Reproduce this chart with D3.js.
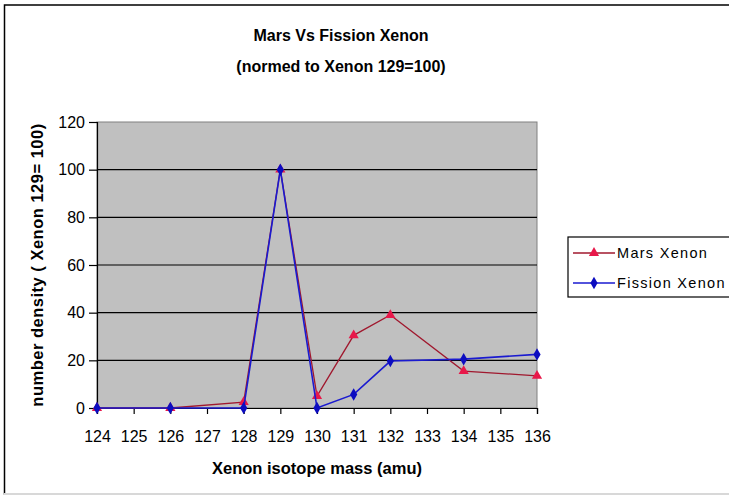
<!DOCTYPE html>
<html><head><meta charset="utf-8">
<script src="https://cdn.jsdelivr.net/npm/d3@7"></script>
<style>
html,body{margin:0;padding:0;background:#fff;}
text{font-family:"Liberation Sans",Arial,sans-serif;fill:#000;}
</style></head>
<body>
<svg id="chart" width="729" height="500"></svg>
<script>
// ---- data ----
const isotopes = [124, 126, 128, 129, 130, 131, 132, 134, 136];
const marsXenon = [0, 0, 2.5, 100, 5, 30.5, 39, 15.5, 13.5];
const fissionXenon = [0, 0, 0, 100, 0, 5.7, 19.7, 20.5, 22.5];
const xTicks = [124,125,126,127,128,129,130,131,132,133,134,135,136];
const yTicks = [0, 20, 40, 60, 80, 100, 120];
const seriesNames = ["Mars Xenon", "Fission Xenon"];
const titleLines = ["Mars Vs Fission Xenon", "(normed to Xenon 129=100)"];
const xTitle = "Xenon isotope mass (amu)";
const yTitle = "number density ( Xenon 129= 100)";

const svg = d3.select("#chart");
// chart area border
svg.append("rect").attr("x",4.5).attr("y",5).attr("width",760).attr("height",489)
  .attr("fill","#fff").attr("stroke","#000").attr("stroke-width",1.5);
svg.append("line").attr("x1",4).attr("x2",729).attr("y1",494).attr("y2",494)
  .attr("stroke","#d8d8d8").attr("stroke-width",2);

const x = d3.scaleLinear().domain([124,136]).range([97,537]);
const y = d3.scaleLinear().domain([0,120]).range([408,122]);

// plot area
svg.append("rect").attr("x",x(124)).attr("y",y(120))
  .attr("width",x(136)-x(124)).attr("height",y(0)-y(120))
  .attr("fill","#c0c0c0").attr("stroke","#808080").attr("stroke-width",1);

// gridlines
svg.append("g").selectAll("line").data(yTicks.filter(d=>d>0&&d<120)).join("line")
  .attr("x1",x(124)).attr("x2",x(136)).attr("y1",d=>y(d)).attr("y2",d=>y(d))
  .attr("stroke","#000").attr("stroke-width",1.2);

// axes
const yAxis = svg.append("g").attr("transform",`translate(${x(124)},0)`)
  .call(d3.axisLeft(y).tickValues(yTicks).tickSize(8).tickPadding(4));
const xAxis = svg.append("g").attr("transform",`translate(0,${y(0)})`)
  .call(d3.axisBottom(x).tickValues(xTicks).tickFormat(d3.format("d")).tickSize(6).tickPadding(17));
[yAxis,xAxis].forEach(a=>{
  a.select(".domain").attr("stroke","#000").attr("stroke-width",1.2);
  a.selectAll(".tick line").attr("stroke","#000").attr("stroke-width",1.2);
  a.selectAll("text").attr("font-size",16).attr("font-family","'Liberation Sans',Arial,sans-serif").attr("fill","#000");
});

// series
const markerTri = d3.symbol().type(d3.symbolTriangle).size(45);
const markerDia = d3.symbol().type(d3.symbolDiamond).size(45);
const line = d3.line().x(d=>x(d[0])).y(d=>y(d[1]));
const marsPts = isotopes.map((v,i)=>[v, marsXenon[i]]);
const fisPts = isotopes.map((v,i)=>[v, fissionXenon[i]]);

svg.append("path").datum(marsPts).attr("d",line).attr("fill","none")
  .attr("stroke","#a0182e").attr("stroke-width",1.3);
svg.append("g").selectAll("path").data(marsPts).join("path")
  .attr("d",markerTri).attr("transform",d=>`translate(${x(d[0])},${y(d[1])})`)
  .attr("fill","#e8184a");

svg.append("path").datum(fisPts).attr("d",line).attr("fill","none")
  .attr("stroke","#1a1ad0").attr("stroke-width",1.6);
svg.append("g").selectAll("path").data(fisPts).join("path")
  .attr("d",markerDia).attr("transform",d=>`translate(${x(d[0])},${y(d[1])})`)
  .attr("fill","#0c0cc0");

// titles
svg.append("g").selectAll("text").data(titleLines).join("text")
  .attr("x",341).attr("y",(d,i)=>41+i*31).attr("text-anchor","middle")
  .attr("font-size",16).attr("font-weight","bold").text(d=>d);
svg.append("text").attr("x",317).attr("y",474).attr("text-anchor","middle")
  .attr("font-size",16.5).attr("font-weight","bold").text(xTitle);
svg.append("text").attr("transform","translate(43,265) rotate(-90)").attr("text-anchor","middle")
  .attr("font-size",16.5).attr("font-weight","bold").attr("letter-spacing","0.5px").text(yTitle);

// legend
const lg = svg.append("g");
lg.append("rect").attr("x",568).attr("y",237).attr("width",200).attr("height",60)
  .attr("fill","#fff").attr("stroke","#000").attr("stroke-width",1.2);
const legY = [253, 283];
const legColors = [["#a0182e","#e8184a",markerTri],["#1a1ad0","#0c0cc0",markerDia]];
seriesNames.forEach((n,i)=>{
  lg.append("line").attr("x1",573).attr("x2",615).attr("y1",legY[i]).attr("y2",legY[i])
    .attr("stroke",legColors[i][0]).attr("stroke-width",1.3);
  lg.append("path").attr("d",legColors[i][2]).attr("transform",`translate(594,${legY[i]})`)
    .attr("fill",legColors[i][1]);
  lg.append("text").attr("x",617).attr("y",legY[i]+5).attr("font-size",14.5)
    .attr("letter-spacing","1.3px").text(n);
});
</script>
</body></html>
